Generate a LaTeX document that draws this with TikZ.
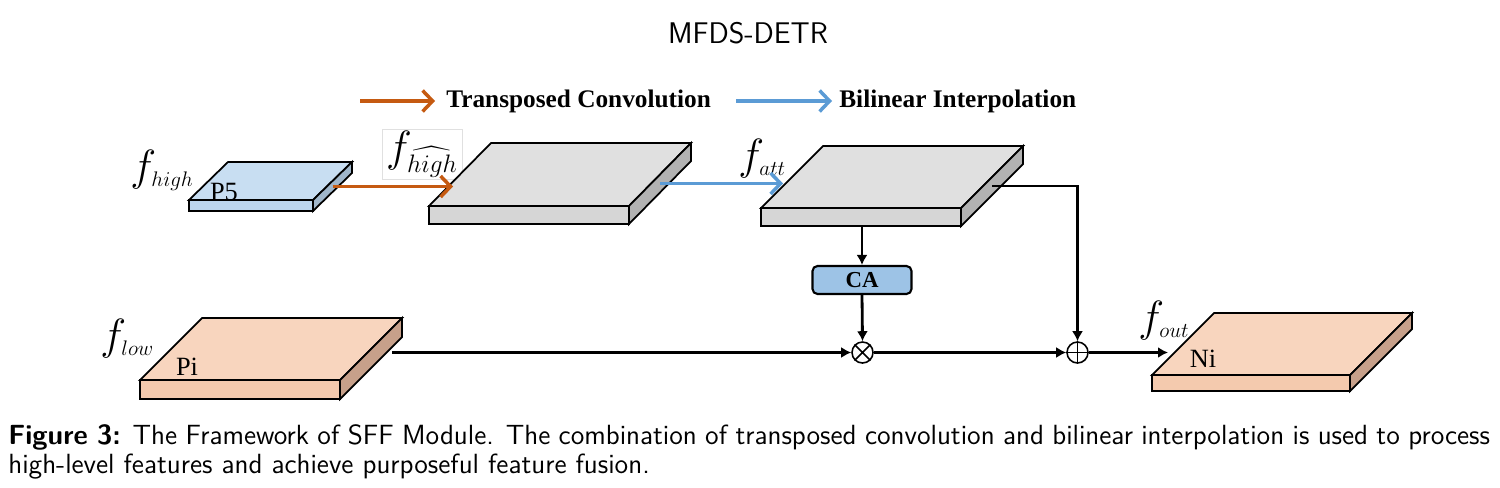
\documentclass[tikz,border=0pt]{standalone}
\usepackage{amsmath}
\usepackage{fontspec}
\newfontfamily\timesfont{Liberation Serif}
\newfontfamily\capfont{lmsans12-regular.otf}[BoldFont=lmsans10-bold.otf]
\usetikzlibrary{calc, positioning, arrows.meta}

\definecolor{ptop}{RGB}{200,222,242}
\definecolor{pfront}{RGB}{189,214,238}
\definecolor{pside}{RGB}{160,182,202}
\definecolor{gtop}{RGB}{224,224,224}
\definecolor{gfront}{RGB}{214,214,214}
\definecolor{gside}{RGB}{178,178,178}
\definecolor{otop}{RGB}{248,213,190}
\definecolor{ofront}{RGB}{244,202,174}
\definecolor{oside}{RGB}{199,160,138}
\definecolor{tconv}{RGB}{197,90,17}
\definecolor{binterp}{RGB}{91,155,213}
\definecolor{cafill}{RGB}{157,195,230}

\newcommand{\subsz}[1]{\text{\fontsize{12}{14}\selectfont$#1$}}

\tikzset{
  slabline/.style={draw=black, line width=1pt, line join=miter},
  conn/.style={line width=1.6pt, -{Latex[length=0.2cm,width=0.22cm]}},
  tconvarrow/.style={draw=tconv, line width=2pt, -{Straight Barb[length=0.2cm,width=0.42cm]}},
  binterparrow/.style={draw=binterp, line width=2pt, -{Straight Barb[length=0.2cm,width=0.42cm]}},
  flabel/.style={anchor=base west, inner sep=0pt, font=\fontsize{28}{32}\selectfont},
  slabtext/.style={inner sep=0pt, font=\timesfont\fontsize{15}{17}\selectfont},
  legendtext/.style={anchor=west, inner sep=0pt, font=\timesfont\bfseries\fontsize{14.4}{16}\selectfont},
  opcircle/.style={draw, circle, line width=0.9pt, minimum size=0.42cm, inner sep=0pt, fill=white}
}

% name, front-left corner, width, back offset, thickness, colour prefix
\newcommand{\featslab}[6]{%
  \coordinate (#1-fl) at #2;
  \coordinate (#1-fr) at ($(#1-fl)+(#3,0)$);
  \coordinate (#1-bl) at ($(#1-fl)+#4$);
  \coordinate (#1-br) at ($(#1-fr)+#4$);
  \filldraw[slabline, fill=#6top] (#1-fl) -- (#1-bl) -- (#1-br) -- (#1-fr) -- cycle;
  \filldraw[slabline, fill=#6front] (#1-fl) -- (#1-fr) -- ++(0,#5) -- ($(#1-fl)+(0,#5)$) -- cycle;
  \filldraw[slabline, fill=#6side] (#1-fr) -- (#1-br) -- ++(0,#5) -- ($(#1-fr)+(0,#5)$) -- cycle;
  \coordinate (#1-side) at ($(#1-fr)!0.5!(#1-br)+(0,0.5*#5)$);
}

\begin{document}
\begin{tikzpicture}[x=0.02cm, y=-0.02cm]
\useasboundingbox (0,0) rectangle (1500,487);

\node[font=\sffamily\fontsize{17}{19}\selectfont] (title) at (748,33) {MFDS-DETR};

% legend
\coordinate (lgorange) at (360,101);
\node[legendtext] (lgtconv) at (446,101) {Transposed Convolution};
\coordinate (lgblue) at (736,101);
\node[legendtext] (lgbinterp) at (839,101) {Bilinear Interpolation};
\draw[tconvarrow, shorten >=0.22cm] (lgorange) -- (lgtconv.west);
\draw[binterparrow, shorten >=0.14cm] (lgblue) -- (lgbinterp.west);

% feature maps
\node[draw=black!12, fill=white, minimum width=1.6cm, minimum height=1cm, inner sep=0pt,
  font=\fontsize{28}{32}\selectfont] (fhatlabel) at (422,154)
  {$f_{\text{\fontsize{14}{16}\selectfont$\widehat{high}$}}$};
\featslab{p5}{(189,200)}{124}{(39,-38)}{11}{p}
\featslab{up}{(429,206)}{200}{(62,-63)}{18}{g}
\featslab{att}{(761,208)}{200}{(62,-62)}{18}{g}
\featslab{pi}{(140,380)}{200}{(62,-62)}{19}{o}
\featslab{ni}{(1152,375)}{198}{(62,-62)}{16}{o}

\node[slabtext] (p5text) at (224,192) {P5};
\node[slabtext] (pitext) at (187,367) {Pi};
\node[slabtext] (nitext) at (1203,359) {Ni};

\node[flabel] (fhigh) at (130,180) {$f_{\subsz{high}}$};
\node[flabel] (fatt) at (738,169) {$f_{\subsz{att}}$};
\node[flabel] (flow) at (100,349) {$f_{\subsz{low}}$};
\node[flabel] (fout) at (1138,331) {$f_{\subsz{out}}$};

% operations
\node[draw, rounded corners=0.1cm, fill=cafill, line width=1.2pt, minimum width=1.98cm,
  minimum height=0.56cm, inner sep=0pt, font=\timesfont\bfseries\fontsize{13}{15}\selectfont] (ca) at (862,280) {CA};
\node[opcircle] (otimes) at (862.5,352.5) {};
\draw[line width=0.9pt] (otimes.north west) -- (otimes.south east) (otimes.north east) -- (otimes.south west);
\node[opcircle] (oplus) at (1077.5,352.5) {};
\draw[line width=0.9pt] (oplus.north) -- (oplus.south) (oplus.west) -- (oplus.east);

\coordinate (up-in) at (453,186);
\coordinate (att-in) at (783,186);
\coordinate (att-bottom) at ($(att-fl)+(101,18)$);
\coordinate (pi-out) at (392,352.5);
\coordinate (ni-in) at (1168,352.5);

\draw[tconvarrow] (p5-side) -- (p5-side -| up-in);
\draw[binterparrow] (up-side) -- (up-side -| att-in);
\draw[conn] (att-bottom) -- (ca.north);
\draw[conn] (ca.south) -- (otimes.north);
\draw[conn] (att-side) -| (oplus.north);
\draw[conn] (pi-out) -- (otimes.west);
\draw[conn] (otimes.east) -- (oplus.west);
\draw[conn] (oplus.east) -- (ni-in);

% caption
\node[anchor=north west, align=left, inner sep=0pt,
  font=\capfont\fontsize{15.8}{16.6}\selectfont] (caption) at (8,424)
  {\makebox[29.64cm][s]{\textbf{Figure 3:} The Framework of SFF Module. The combination of transposed convolution and bilinear interpolation is used to process}\\
   high-level features and achieve purposeful feature fusion.};

\end{tikzpicture}
\end{document}
